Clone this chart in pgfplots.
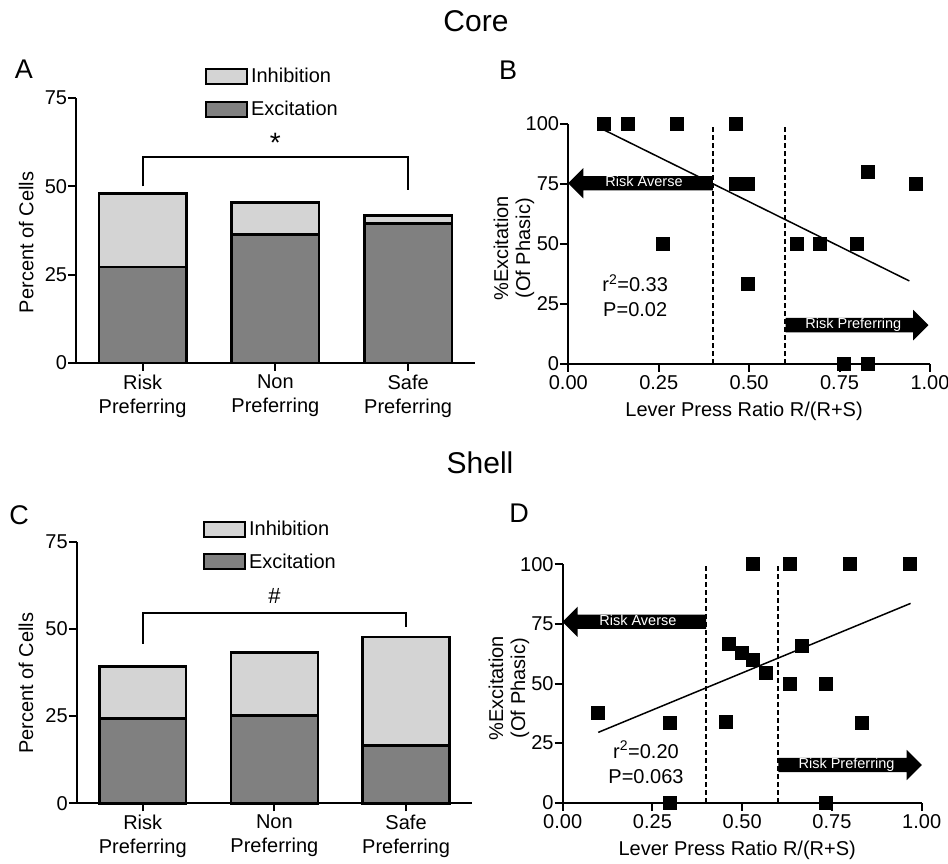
\documentclass[border=0pt]{standalone}
\usepackage{fontspec}
\setmainfont{Liberation Sans}
\usepackage{pgfplots}
\pgfplotsset{compat=1.18}
\usetikzlibrary{shapes.arrows}
\definecolor{exc}{RGB}{128,128,128}
\definecolor{inh}{RGB}{212,212,212}
\newcommand{\tickfont}{\fontsize{20}{24}\selectfont}
\newcommand{\labfont}{\fontsize{20}{22}\selectfont}
\newcommand{\annfont}{\fontsize{20}{25}\selectfont}
\newcommand{\arrfont}{\fontsize{14.5}{16}\selectfont}
\newcommand{\letfont}{\fontsize{27}{30}\selectfont}
\newcommand{\titfont}{\fontsize{30}{34}\selectfont}

\tikzset{
  bigarrow/.style={single arrow, fill=black, draw=none, text=white, font=\arrfont,
    inner xsep=0pt, inner ysep=0pt, text height=10.5pt, text depth=3.5pt,
    single arrow head extend=8pt, minimum height=#1},
}

\pgfplotsset{
  base/.style={
    scale only axis, clip=false,
    axis lines=left,
    axis line style={line width=2pt,-},
    every tick/.style={line width=2pt, black},
    major tick length=8pt,
    tick align=outside,
    tick label style={font=\tickfont},
    yticklabel style={inner xsep=1pt},
    label style={font=\labfont},
    /pgf/number format/assume math mode=true,
  },
  barax/.style={base,
    xmin=-0.5, xmax=2.5, ymin=0, ymax=75,
    xtick={0,1,2}, xticklabels={Risk\\Preferring,Non\\Preferring,Safe\\Preferring},
    xticklabel style={align=center},
    ytick={0,25,50,75},
    ylabel={Percent of Cells},
    ybar stacked, bar width=0.66,
    legend style={draw=none, fill=none, inner sep=0pt, anchor=north west, font=\tickfont,
       nodes={inner sep=0pt, anchor=west}, /tikz/every odd column/.style={column sep=3pt}},
    legend cell align=left,
  },
  scatax/.style={base,
    xmin=0, xmax=1, ymin=0, ymax=100,
    xtick={0,0.25,0.5,0.75,1}, xticklabels={0.00,0.25,0.50,0.75,1.00},
    ytick={0,25,50,75,100},
    xlabel={Lever Press Ratio R/(R+S)},
    ylabel={\%Excitation\\(Of Phasic)},
    ylabel style={align=center},
    xlabel style={at={(axis description cs:0.486,0)}, anchor=base, yshift=-53pt},
  },
  swatch/.style={legend image code/.code={\draw[line width=2pt,##1] (0pt,-7.5pt) rectangle (41pt,7.5pt);}},
}

\begin{document}
\begin{tikzpicture}
\useasboundingbox (0,0) rectangle (948pt,863pt);
\node[font=\titfont, anchor=base] at (476pt,831.3pt) {Core};
\node[font=\titfont, anchor=base] at (480pt,389.7pt) {Shell};
\node[font=\letfont, anchor=base] at (24pt,784.7pt) {A};
\node[font=\letfont, anchor=base] at (508pt,783pt) {B};
\node[font=\letfont, anchor=base] at (19pt,338pt) {C};
\node[font=\letfont, anchor=base] at (519pt,340pt) {D};

% ---------------- A
\begin{axis}[barax, at={(76.2pt,500pt)}, anchor=south west, width=398.3pt, height=265pt,
  ylabel style={at={(axis description cs:-0.1255,0.455)}, anchor=center},
  legend style={at={(axis description cs:0.323,1.115)}, row sep=16pt}]
\addlegendimage{swatch, fill=inh}
\addlegendentry{Inhibition}
\addlegendimage{swatch, fill=exc}
\addlegendentry{Excitation}
\addplot[forget plot, draw=black, line width=2.5pt, fill=exc] coordinates {(0,27.1) (1,36.4) (2,39.5)};
\addplot[forget plot, draw=black, line width=2.5pt, fill=inh] coordinates {(0,20.9) (1,9.0) (2,2.3)};
\draw[line width=2pt] (axis cs:0,50) -- (axis cs:0,58.4) -- (axis cs:2,58.4) -- (axis cs:2,49);
\node[font=\fontsize{28}{30}\selectfont, anchor=base] at (axis cs:1,59.5) {*};
\end{axis}

% ---------------- B
\begin{axis}[scatax, at={(568.3pt,499pt)}, anchor=south west, width=361.7pt, height=240pt,
  ylabel style={at={(axis description cs:-0.150,0.482)}, anchor=center}]
\draw[line width=2pt, dash pattern=on 5pt off 3pt] (axis cs:0.4,0) -- (axis cs:0.4,100);
\draw[line width=2pt, dash pattern=on 5pt off 3pt] (axis cs:0.6,0) -- (axis cs:0.6,100);
\addplot[black, line width=1.5pt, no marks] coordinates {(0.099,97.5) (0.943,34.6)};
\node[bigarrow=144.7pt, shape border rotate=180, anchor=tail] at (axis cs:0.4,75.3) {Risk Averse};
\node[bigarrow=142.9pt, anchor=tail] at (axis cs:0.6,16.2) {Risk Preferring};
\addplot[only marks, mark=square*, mark size=6.5pt, black, mark options={line width=1pt}] coordinates {
 (0.099,100) (0.164,100) (0.30,100) (0.464,100) (0.464,75) (0.498,75) (0.263,50) (0.498,33.3)
 (0.631,50) (0.696,50) (0.797,50) (0.828,80) (0.961,75) (0.763,0) (0.828,0)};
\node[font=\annfont, align=center] at (axis cs:0.185,28.4) {r\textsuperscript{2}=0.33\\P=0.02};
\end{axis}

% ---------------- C
\begin{axis}[barax, at={(76.9pt,59.7pt)}, anchor=south west, width=395pt, height=261.6pt,
  ylabel style={at={(axis description cs:-0.129,0.459)}, anchor=center},
  legend style={at={(axis description cs:0.319,1.081)}, row sep=15.5pt}]
\addlegendimage{swatch, fill=inh}
\addlegendentry{Inhibition}
\addlegendimage{swatch, fill=exc}
\addlegendentry{Excitation}
\addplot[forget plot, draw=black, line width=2.5pt, fill=exc] coordinates {(0,24.3) (1,25.2) (2,16.6)};
\addplot[forget plot, draw=black, line width=2.5pt, fill=inh] coordinates {(0,14.9) (1,18.1) (2,31.1)};
\draw[line width=2pt] (axis cs:0,45.7) -- (axis cs:0,54.5) -- (axis cs:2,54.5) -- (axis cs:2,50.5);
\node[font=\fontsize{22}{24}\selectfont, anchor=base] at (axis cs:1,57.3) {\#};
\end{axis}

% ---------------- D
\begin{axis}[scatax, at={(562.7pt,60.3pt)}, anchor=south west, width=359pt, height=238.4pt,
  ylabel style={at={(axis description cs:-0.1496,0.48)}, anchor=center}]
\draw[line width=2pt, dash pattern=on 5pt off 3pt] (axis cs:0.4,0) -- (axis cs:0.4,100);
\draw[line width=2pt, dash pattern=on 5pt off 3pt] (axis cs:0.6,0) -- (axis cs:0.6,100);
\addplot[black, line width=1.5pt, no marks] coordinates {(0.099,29.5) (0.969,83.6)};
\node[bigarrow=143.6pt, shape border rotate=180, anchor=tail] at (axis cs:0.4,75.9) {Risk Averse};
\node[bigarrow=143.6pt, anchor=tail] at (axis cs:0.6,15.8) {Risk Preferring};
\addplot[only marks, mark=square*, mark size=6.5pt, black, mark options={line width=1pt}] coordinates {
 (0.099,37.5) (0.299,33.3) (0.299,0) (0.454,34) (0.464,66.6) (0.499,62.7) (0.531,59.9) (0.565,54.5)
 (0.531,100) (0.633,100) (0.633,50) (0.666,65.7) (0.733,50) (0.733,0) (0.799,100) (0.833,33.3) (0.967,100)};
\node[font=\annfont, align=center] at (axis cs:0.232,16.9) {r\textsuperscript{2}=0.20\\P=0.063};
\end{axis}
\end{tikzpicture}
\end{document}
